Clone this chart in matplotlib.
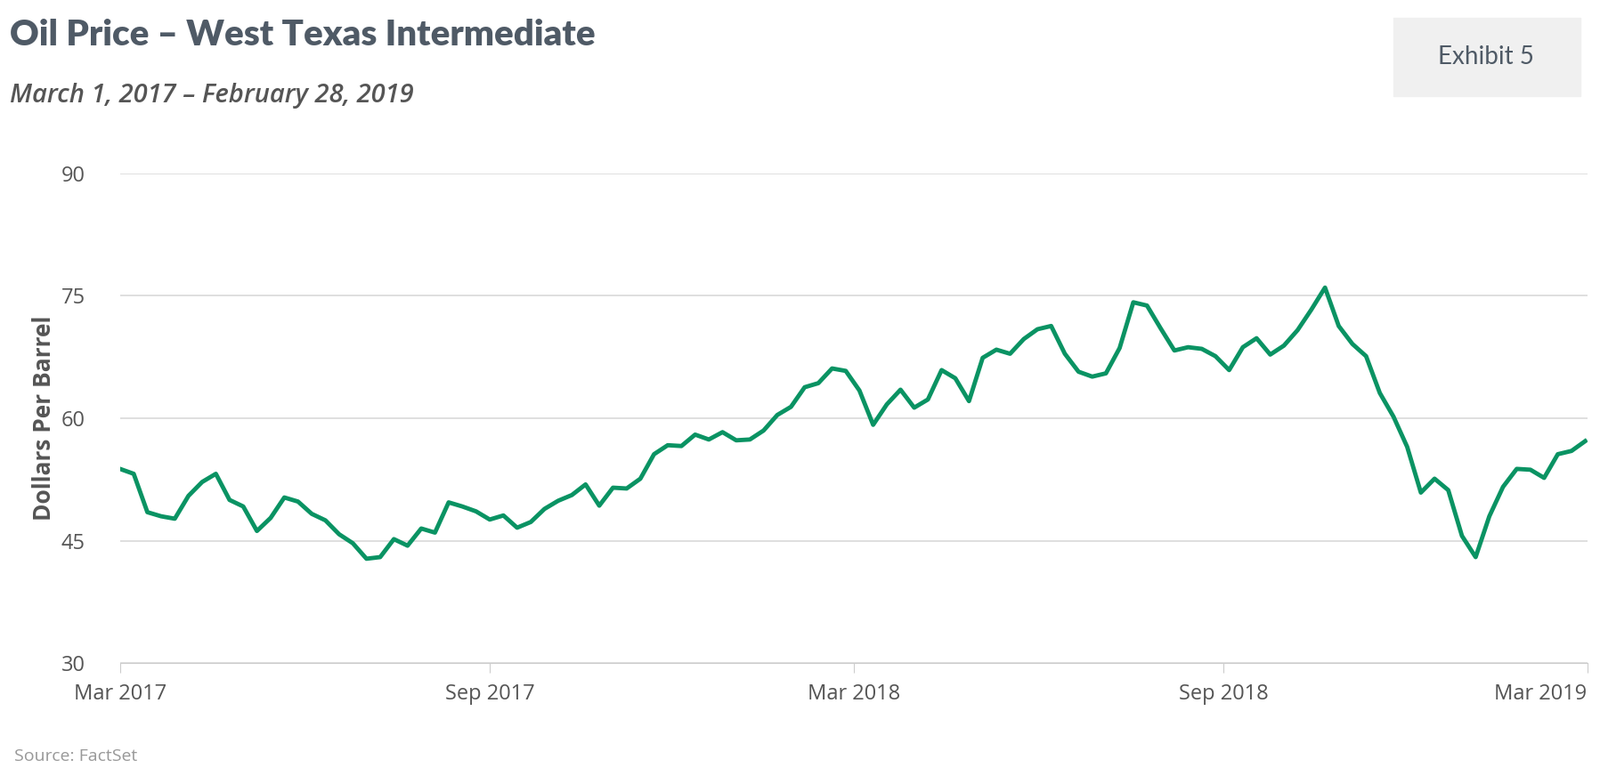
import pandas as pd
import matplotlib.pyplot as plt
from matplotlib.patches import Rectangle

# weekly WTI close, Mar 2017 - Feb 2019
prices = [53.8, 53.2, 48.5, 48.0, 47.7, 50.5,
          52.2, 53.2, 50.0, 49.2,
          46.2, 47.8, 50.3, 49.8, 48.3,
          47.5, 45.8, 44.7, 42.8, 43.0,
          45.2, 44.4, 46.5, 46.0, 49.7,
          49.2, 48.6, 47.6, 48.1, 46.6,
          47.3, 48.9, 49.9, 50.6, 51.9,
          49.3, 51.5, 51.4, 52.6,
          55.6, 56.7, 56.6, 58.0, 57.4,
          58.3, 57.3, 57.4, 58.5, 60.4,
          61.4, 63.8, 64.3, 66.1, 65.8,
          63.4, 59.2, 61.7, 63.5,
          61.3, 62.3, 65.9, 64.9,
          62.1, 67.4, 68.4, 67.9,
          69.7, 70.9, 71.3, 67.9,
          65.7, 65.1, 65.5, 68.6, 74.2,
          73.8, 71.0, 68.3, 68.7,
          68.5, 67.6, 65.9, 68.7, 69.8,
          67.8, 68.9, 70.8, 73.3,
          76.0, 71.3, 69.1, 67.6,
          63.1, 60.2, 56.5, 50.9,
          52.6, 51.2, 45.6, 43.0,
          48.0, 51.6, 53.8, 53.7,
          52.7, 55.6, 56.0, 57.2]
dates = pd.date_range("2017-03-01", "2019-02-28", periods=len(prices))

tick_dates = pd.to_datetime(["2017-03-01", "2017-09-01", "2018-03-01", "2018-09-01", "2019-03-01"])
tick_labels = ["Mar 2017", "Sep 2017", "Mar 2018", "Sep 2018", "Mar 2019"]
y_ticks = [30, 45, 60, 75, 90]

fig = plt.figure(figsize=(17.97, 8.81), dpi=100)
ax = fig.add_axes([0.075, 0.154, 0.917, 0.625])
ax.plot(dates, prices, color="#0a9363", lw=3.5, solid_joinstyle="round")
ax.set_ylim(30, 90)
ax.set_xlim(tick_dates[0], tick_dates[-1])
ax.set_yticks(y_ticks)
ax.set_xticks(tick_dates)
ax.set_xticklabels(tick_labels)
ax.grid(axis="y", color="#d9d9d9", lw=1.2)
ax.set_axisbelow(True)
for s in ["top", "right", "left"]:
    ax.spines[s].set_visible(False)
ax.spines["bottom"].set_color("#cccccc")
ax.tick_params(axis="y", length=0, pad=28, labelsize=17, labelcolor="#555555")
ax.tick_params(axis="x", length=8, color="#cccccc", labelsize=17, labelcolor="#555555", pad=8)
ax.set_ylabel("Dollars Per Barrel", fontsize=19, fontweight="bold", color="#555555", family="Open Sans")
for lbl in ax.get_xticklabels() + ax.get_yticklabels():
    lbl.set_family("Open Sans")
ax.get_xticklabels()[-1].set_ha("right")
ax.get_xticklabels()[-1].set_x(0)

fig.text(0.006, 0.955, "Oil Price \u2013 West Texas Intermediate", fontsize=29, fontweight="heavy",
         color="#4f5a66", family="Lato", va="center")
fig.text(0.006, 0.878, "March 1, 2017 \u2013 February 28, 2019", fontsize=21, style="italic",
         fontweight="semibold", color="#555555", family="Open Sans", va="center")
fig.patches.append(Rectangle((0.871, 0.877), 0.117, 0.1, transform=fig.transFigure,
                             color="#f0f0f0", zorder=0))
fig.text(0.929, 0.927, "Exhibit 5", fontsize=20, color="#4f5a66", family="Lato",
         ha="center", va="center")
fig.text(0.009, 0.03, "Source: FactSet", fontsize=14, color="#999999", family="Open Sans")

fig.savefig("out.png")
